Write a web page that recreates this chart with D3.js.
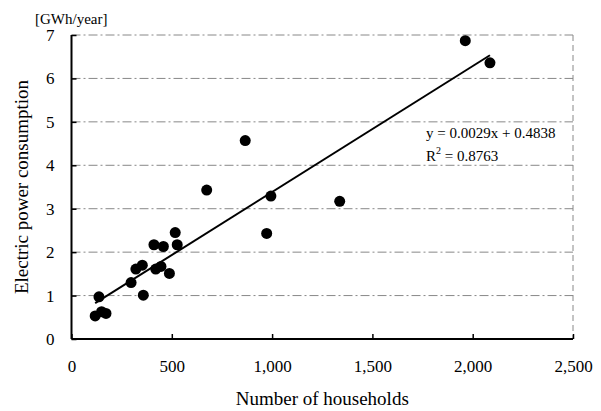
<!DOCTYPE html>
<html><head><meta charset="utf-8">
<script src="https://cdn.jsdelivr.net/npm/d3@7"></script>
<style>
html,body{margin:0;padding:0;background:#fff;}
svg text{font-family:"Liberation Serif","Times New Roman",serif;fill:#000;}
</style></head>
<body><svg id="c" width="601" height="411"></svg>
<script>
const households = [118,137,150,172,297,321,353,358,411,420,446,458,488,517,527,674,866,973,994,1337,1963,2086];
const consumption = [0.53,0.97,0.63,0.59,1.30,1.61,1.70,1.01,2.17,1.61,1.67,2.13,1.51,2.45,2.17,3.43,4.57,2.43,3.29,3.17,6.87,6.36];
const xTicks = [0,500,1000,1500,2000,2500];
const yTicks = [0,1,2,3,4,5,6,7];
const slope = 0.0029, intercept = 0.4838, r2 = 0.8763;

const svg = d3.select("#c");
const L=71.5, R=573, T=35, B=339;
const x = d3.scaleLinear().domain([0,2500]).range([L,R]);
const y = d3.scaleLinear().domain([0,7]).range([B,T]);
const serif = "'Liberation Serif','Times New Roman',serif";

// gridlines
svg.append("g").selectAll("line").data(yTicks.filter(d=>d>0)).join("line")
  .attr("x1",L).attr("x2",R).attr("y1",d=>y(d)).attr("y2",d=>y(d))
  .attr("stroke","#888").attr("stroke-width",1).attr("stroke-dasharray","9,3,2,3");
// right border
svg.append("line").attr("x1",R).attr("x2",R).attr("y1",T).attr("y2",B)
  .attr("stroke","#888").attr("stroke-width",1).attr("stroke-dasharray","6,4");

// axes
const xAxis = d3.axisBottom(x).tickValues(xTicks).tickSize(-5).tickPadding(14)
  .tickFormat(d3.format(","));
const gx = svg.append("g").attr("transform",`translate(0,${B})`).call(xAxis)
  .attr("font-family",serif).attr("font-size",17);
gx.select(".domain").attr("stroke","#000").attr("stroke-width",2).attr("d",`M${L},0H${R}`);
gx.selectAll(".tick line").attr("stroke","#000").attr("stroke-width",1.5);
gx.selectAll(".tick text").attr("dy","1.1em");

const yAxis = d3.axisLeft(y).tickValues(yTicks).tickSize(-5).tickPadding(17)
  .tickFormat(d3.format("d"));
const gy = svg.append("g").attr("transform",`translate(${L},0)`).call(yAxis)
  .attr("font-family",serif).attr("font-size",17);
gy.select(".domain").attr("stroke","#000").attr("stroke-width",2).attr("d",`M0,${T}V${B}`);
gy.selectAll(".tick line").attr("stroke","#000").attr("stroke-width",1.5);

// trendline
const x0 = d3.min(households), x1 = d3.max(households);
svg.append("line")
  .attr("x1",x(x0)).attr("y1",y(slope*x0+intercept))
  .attr("x2",x(x1)).attr("y2",y(slope*x1+intercept))
  .attr("stroke","#000").attr("stroke-width",2);

// points
svg.append("g").selectAll("circle").data(households.map((h,i)=>[h,consumption[i]])).join("circle")
  .attr("cx",d=>x(d[0])).attr("cy",d=>y(d[1])).attr("r",5.5).attr("fill","#000");

// equation
svg.append("text").attr("x",426).attr("y",138).attr("font-size",15)
  .text(`y = ${slope.toFixed(4)}x + ${intercept.toFixed(4)}`);
const rt = svg.append("text").attr("x",426).attr("y",161).attr("font-size",15);
rt.append("tspan").text("R");
rt.append("tspan").attr("font-size",10).attr("dy",-7).text("2");
rt.append("tspan").attr("dy",7).text(` = ${r2.toFixed(4)}`);

// titles
svg.append("text").attr("x",35).attr("y",24).attr("font-size",15).text("[GWh/year]");
svg.append("text").attr("x",(L+R)/2).attr("y",405).attr("text-anchor","middle")
  .attr("font-size",19).text("Number of households");
svg.append("text").attr("transform",`translate(28,${(T+B)/2}) rotate(-90)`)
  .attr("text-anchor","middle").attr("font-size",19).text("Electric power consumption");
</script></body></html>
